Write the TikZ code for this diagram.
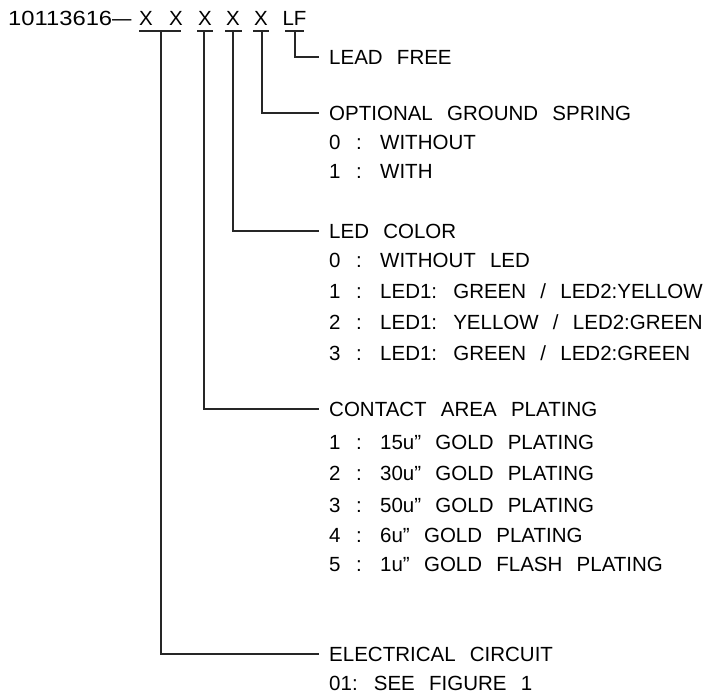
\documentclass[tikz,border=0pt]{standalone}
\usepackage{fontspec}
\setmainfont{Liberation Sans}[WordSpace=2.5]
\newcommand\itemrow[2]{\makebox[27pt][l]{#1}\makebox[24pt][l]{:}#2}
\begin{document}
\begin{tikzpicture}[x=1pt,y=-1pt,
  lbl/.style={anchor=base west, inner sep=0pt, font=\fontsize{20.5}{24}\selectfont},
  chr/.style={anchor=base, inner sep=0pt, font=\fontsize{20.5}{24}\selectfont},
  conn/.style={line width=1.3pt, color=black!85}]
\useasboundingbox (0,0) rectangle (717,696);

% part number
\node[lbl] (pn) at (8,25) {\scalebox{1.16}[1]{10113616}\scalebox{1.7}[1]{–}};
\node[chr] (x1) at (146,25) {X};
\node[chr] (x2) at (176,25) {X};
\node[chr] (x3) at (205,25) {X};
\node[chr] (x4) at (233,25) {X};
\node[chr] (x5) at (261,25) {X};
\node[chr] (lf) at (294.5,25) {LF};

% underlines
\coordinate (u1a) at (139,31); \coordinate (u1b) at (181,31); \coordinate (u1m) at (161,31);
\coordinate (u2a) at (197,31); \coordinate (u2b) at (213,31); \coordinate (u2m) at (204,31);
\coordinate (u3a) at (225,31); \coordinate (u3b) at (242,31); \coordinate (u3m) at (233,31);
\coordinate (u4a) at (253,31); \coordinate (u4b) at (269,31); \coordinate (u4m) at (262,31);
\coordinate (u5a) at (285,31); \coordinate (u5b) at (304,31); \coordinate (u5m) at (295,31);
\foreach \i in {1,...,5} {\draw[conn] (u\i a) -- (u\i b);}

% labels
\node[lbl] (lead) at (329,64) {LEAD FREE};

\node[lbl] (ogs) at (329,120) {OPTIONAL GROUND SPRING};
\node[lbl] (ogs0) at (329,149) {\itemrow{0}{WITHOUT}};
\node[lbl] (ogs1) at (329,178) {\itemrow{1}{WITH}};

\node[lbl] (led) at (329,238) {LED COLOR};
\node[lbl] (led0) at (329,267) {\itemrow{0}{WITHOUT LED}};
\node[lbl] (led1) at (329,298) {\itemrow{1}{LED1: GREEN / LED2:YELLOW}};
\node[lbl] (led2) at (329,329) {\itemrow{2}{LED1: YELLOW / LED2:GREEN}};
\node[lbl] (led3) at (329,360) {\itemrow{3}{LED1: GREEN / LED2:GREEN}};

\node[lbl] (cap) at (329,416) {CONTACT AREA PLATING};
\node[lbl] (cap1) at (329,449) {\itemrow{1}{15u” GOLD PLATING}};
\node[lbl] (cap2) at (329,480) {\itemrow{2}{30u” GOLD PLATING}};
\node[lbl] (cap3) at (329,512) {\itemrow{3}{50u” GOLD PLATING}};
\node[lbl] (cap4) at (329,542) {\itemrow{4}{6u” GOLD PLATING}};
\node[lbl] (cap5) at (329,571) {\itemrow{5}{1u” GOLD FLASH PLATING}};

\node[lbl] (ec) at (329,661) {ELECTRICAL CIRCUIT};
\node[lbl] (ec1) at (329,690) {01: SEE FIGURE 1};

% connectors
\draw[conn] (u5m) |- ([xshift=-10pt]lead.west);
\draw[conn] (u4m) |- ([xshift=-10pt]ogs.west);
\draw[conn] (u3m) |- ([xshift=-10pt]led.west);
\draw[conn] (u2m) |- ([xshift=-10pt]cap.west);
\draw[conn] (u1m) |- ([xshift=-10pt]ec.west);
\end{tikzpicture}
\end{document}
